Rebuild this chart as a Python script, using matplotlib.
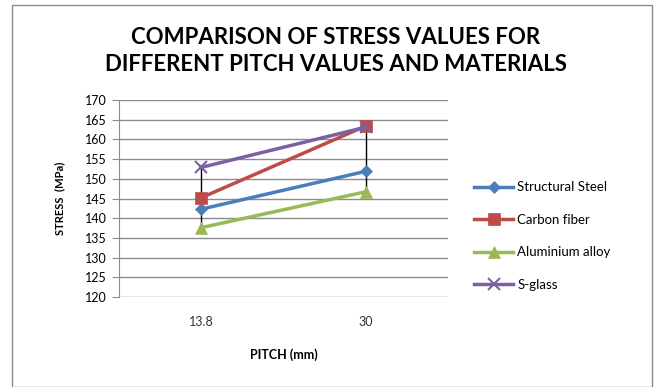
import matplotlib.pyplot as plt
import numpy as np

plt.rcParams['font.family'] = ['Lato', 'DejaVu Sans']

pitch = ['13.8', '30']
steel = [142.3, 151.9]
carbon = [145.2, 163.4]
aluminium = [137.6, 146.7]
sglass = [152.9, 163.1]

series = [
    ('Structural Steel', steel, '#4a7ebb', 'D', 6),
    ('Carbon fiber', carbon, '#be4b48', 's', 8),
    ('Aluminium alloy', aluminium, '#98b954', '^', 8),
    ('S-glass', sglass, '#7d60a0', 'x', 8),
]

fig = plt.figure(figsize=(6.62, 3.87), dpi=100)
# outer chart border
fig.patches.append(plt.Rectangle((12 / 662, 0.0), 640 / 662, 382 / 387,
                                 transform=fig.transFigure, fill=False,
                                 edgecolor='#8c8c8c', linewidth=1.0))

ax = fig.add_axes([119 / 662, 1 - 297 / 387, 329 / 662, 197 / 387])
x = np.arange(len(pitch))

# high-low lines spanning all series at each pitch
allvals = np.array([s[1] for s in series])
ax.vlines(x, allvals.min(axis=0), allvals.max(axis=0), color='black', linewidth=1.0, zorder=2)

for name, vals, color, marker, ms in series:
    ax.plot(x, vals, color=color, linewidth=2.5, marker=marker, markersize=ms,
            markeredgewidth=1.5 if marker == 'x' else 0.5, label=name, zorder=3)

ax.set_xlim(-0.5, 1.5)
ax.set_ylim(120, 170)
ax.set_yticks(np.arange(120, 171, 5))
ax.set_xticks(x)
ax.set_xticklabels(pitch)
ax.grid(axis='y', color='#8c8c8c', linewidth=1.0)
ax.set_axisbelow(True)
for side in ['top', 'right', 'bottom']:
    ax.spines[side].set_visible(False)
ax.spines['left'].set_color('#8c8c8c')
ax.tick_params(axis='y', length=5, color='#8c8c8c', labelsize=9, pad=4)
ax.tick_params(axis='x', length=0, labelsize=9, pad=14, labelcolor='#333333')

ax.set_xlabel('PITCH (mm)', fontsize=9, fontweight='bold', labelpad=14)
ax.set_ylabel('STRESS  (MPa)', fontsize=8, fontweight='bold', labelpad=14)

fig.text(336 / 662, 1 - 51 / 387, 'COMPARISON OF STRESS VALUES FOR\nDIFFERENT PITCH VALUES AND MATERIALS',
         ha='center', va='center', fontsize=16, fontweight='bold', linespacing=1.3)

fig.legend(loc='center left', bbox_to_anchor=(462 / 662, 1 - 236 / 387), frameon=False,
           fontsize=9.5, handlelength=3.0, labelspacing=1.55, handletextpad=0.3)

fig.savefig('out.png', dpi=100)
